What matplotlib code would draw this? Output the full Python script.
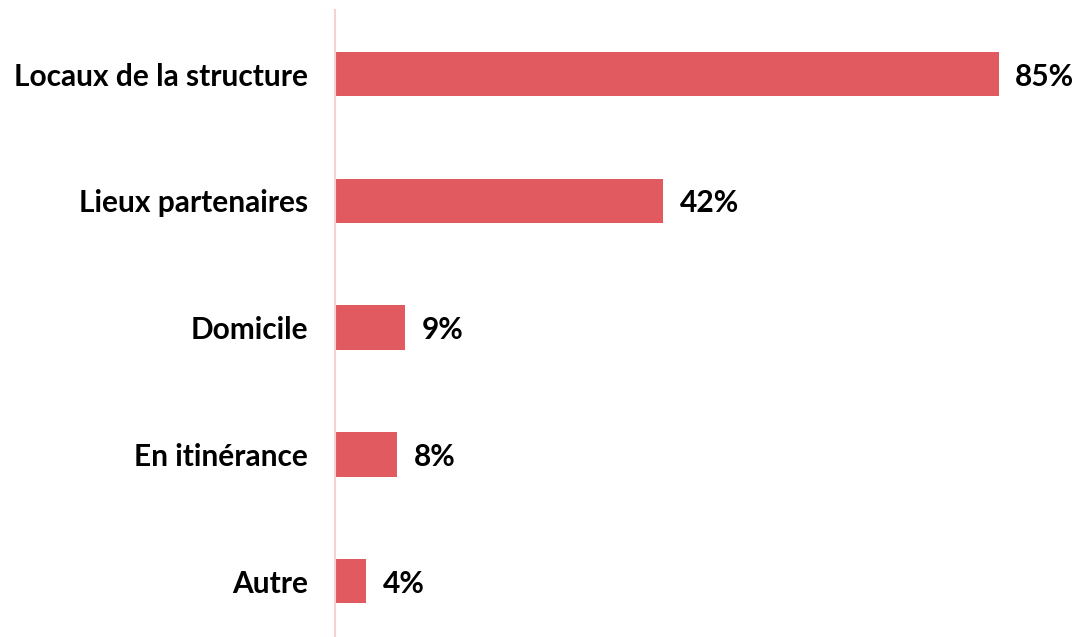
import matplotlib
matplotlib.use("Agg")
from matplotlib import pyplot as plt

categories = ["Locaux de la structure", "Lieux partenaires", "Domicile", "En itinérance", "Autre"]
values = [85, 42, 9, 8, 4]

plt.rcParams['font.family'] = ['Lato', 'DejaVu Sans']

fig = plt.figure(figsize=(10.79, 6.37), dpi=100)
ax = fig.add_axes([335 / 1079, 0, 742 / 1079, 1 - 10 / 637])

y = list(range(len(categories)))
ax.barh(y, values, height=0.35, color="#E05A60")
ax.set_xlim(0, 95)
ax.set_ylim(4.44, -0.505)

# labels on the left
ax.set_yticks(y)
ax.set_yticklabels(categories, fontsize=21.5, fontweight="bold")
ax.tick_params(axis="y", length=0, pad=19.5)
ax.set_xticks([])

# value labels
for yi, v in zip(y, values):
    ax.text(v + 2.1, yi + 0.02, f"{v}%", va="center", ha="left", fontsize=21.5, fontweight="bold")

for s in ["top", "right", "bottom"]:
    ax.spines[s].set_visible(False)
ax.spines["left"].set_color("#F9D0D2")
ax.spines["left"].set_linewidth(1.5)

fig.savefig("out.png", dpi=100)
